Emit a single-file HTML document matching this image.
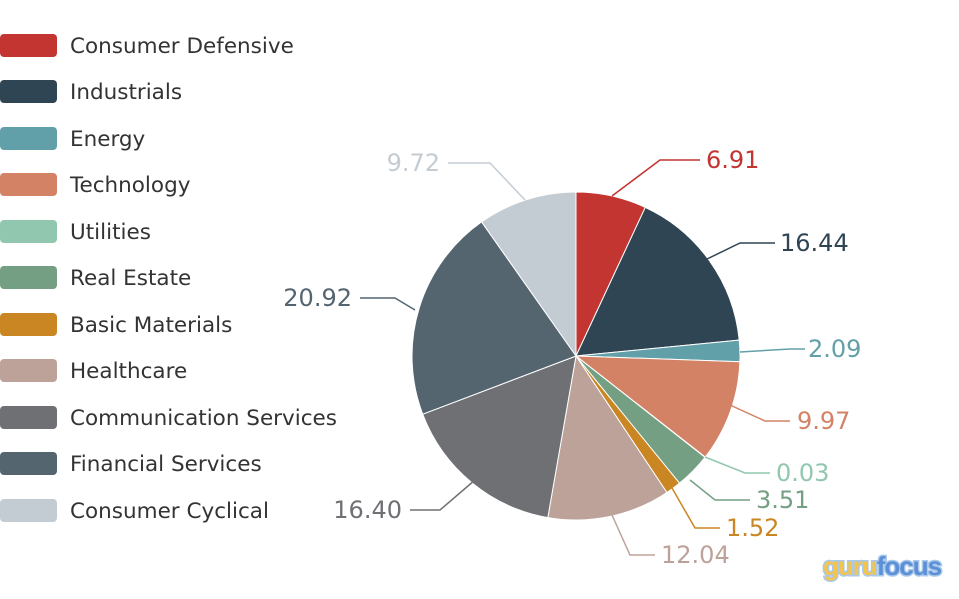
<!DOCTYPE html>
<html><head><meta charset="utf-8"><style>
body{margin:0;width:959px;height:595px;background:#fff;overflow:hidden;font-family:"DejaVu Sans","Liberation Sans",sans-serif;}
</style></head><body>
<svg width="959" height="595" viewBox="0 0 959 595" xmlns="http://www.w3.org/2000/svg">
<g font-size="21.5" fill="#333">
<rect x="0" y="34" width="57" height="23" rx="4" fill="#c23531"/><text x="70" y="53">Consumer Defensive</text>
<rect x="0" y="80" width="57" height="23" rx="4" fill="#2f4554"/><text x="70" y="99">Industrials</text>
<rect x="0" y="127" width="57" height="23" rx="4" fill="#61a0a8"/><text x="70" y="146">Energy</text>
<rect x="0" y="173" width="57" height="23" rx="4" fill="#d48265"/><text x="70" y="192">Technology</text>
<rect x="0" y="220" width="57" height="23" rx="4" fill="#91c7ae"/><text x="70" y="239">Utilities</text>
<rect x="0" y="266" width="57" height="23" rx="4" fill="#749f83"/><text x="70" y="285">Real Estate</text>
<rect x="0" y="313" width="57" height="23" rx="4" fill="#ca8622"/><text x="70" y="332">Basic Materials</text>
<rect x="0" y="359" width="57" height="23" rx="4" fill="#bda29a"/><text x="70" y="378">Healthcare</text>
<rect x="0" y="406" width="57" height="23" rx="4" fill="#6e7074"/><text x="70" y="425">Communication Services</text>
<rect x="0" y="452" width="57" height="23" rx="4" fill="#546570"/><text x="70" y="471">Financial Services</text>
<rect x="0" y="499" width="57" height="23" rx="4" fill="#c4ccd3"/><text x="70" y="518">Consumer Cyclical</text>
</g>
<g stroke="#fff" stroke-width="1">
<path d="M576,356 L576,192 A164,164 0 0 1 645.3,207.4 Z" fill="#c23531"/>
<path d="M576,356 L645.3,207.4 A164,164 0 0 1 739.2,340.1 Z" fill="#2f4554"/>
<path d="M576,356 L739.2,340.1 A164,164 0 0 1 739.9,361.7 Z" fill="#61a0a8"/>
<path d="M576,356 L739.9,361.7 A164,164 0 0 1 705.2,457.1 Z" fill="#d48265"/>
<path d="M576,356 L705.2,457.1 A164,164 0 0 1 705.0,457.3 Z" fill="#91c7ae"/>
<path d="M576,356 L705.0,457.3 A164,164 0 0 1 679.5,483.2 Z" fill="#749f83"/>
<path d="M576,356 L679.5,483.2 A164,164 0 0 1 666.9,492.5 Z" fill="#ca8622"/>
<path d="M576,356 L666.9,492.5 A164,164 0 0 1 547.8,517.6 Z" fill="#bda29a"/>
<path d="M576,356 L547.8,517.6 A164,164 0 0 1 422.7,414.2 Z" fill="#6e7074"/>
<path d="M576,356 L422.7,414.2 A164,164 0 0 1 481.6,221.9 Z" fill="#546570"/>
<path d="M576,356 L481.6,221.9 A164,164 0 0 1 576,192 Z" fill="#c4ccd3"/>
</g>
<g fill="none" stroke-width="1.5">
<polyline points="612,196 660,160 700,160" stroke="#c23531"/>
<polyline points="705,260 740,243 775,243" stroke="#2f4554"/>
<polyline points="740,352 790,349 805,349" stroke="#61a0a8"/>
<polyline points="730,405 765,421 790,421" stroke="#d48265"/>
<polyline points="705,457 745,473 770,473" stroke="#91c7ae"/>
<polyline points="690,480 715,500 750,500" stroke="#749f83"/>
<polyline points="672,488 695,528 720,528" stroke="#ca8622"/>
<polyline points="612,515 630,555 655,555" stroke="#bda29a"/>
<polyline points="475,480 440,510 410,510" stroke="#6e7074"/>
<polyline points="415,310 395,298 360,298" stroke="#546570"/>
<polyline points="525,200 490,163 448,163" stroke="#c4ccd3"/>
</g>
<g font-size="24">
<text x="706" y="168" fill="#c23531">6.91</text>
<text x="780" y="251" fill="#2f4554">16.44</text>
<text x="808" y="357" fill="#61a0a8">2.09</text>
<text x="797" y="429" fill="#d48265">9.97</text>
<text x="776" y="481" fill="#91c7ae">0.03</text>
<text x="756" y="508" fill="#749f83">3.51</text>
<text x="726" y="536" fill="#ca8622">1.52</text>
<text x="661" y="563" fill="#bda29a">12.04</text>
<text x="402" y="518" fill="#6e7074" text-anchor="end">16.40</text>
<text x="352" y="306" fill="#546570" text-anchor="end">20.92</text>
<text x="440" y="171" fill="#c4ccd3" text-anchor="end">9.72</text>
</g>
<g font-size="26" font-weight="bold" font-family="Liberation Sans,sans-serif" stroke="#a9c8ec" stroke-width="3" paint-order="stroke">
<text x="823" y="575" fill="#f3c54e" letter-spacing="-1">guru<tspan fill="#5b8fd6">focus</tspan></text>
</g>
</svg>
</body></html>
